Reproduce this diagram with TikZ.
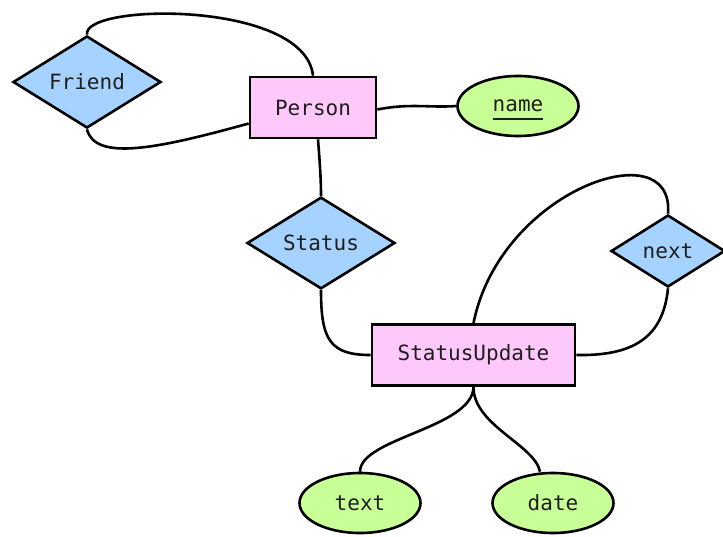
\documentclass[tikz,border=0pt]{standalone}
\usepackage{fontspec}
\setmonofont{DejaVu Sans Mono}
\usetikzlibrary{shapes.geometric}
\definecolor{relblue}{RGB}{166,210,255}
\definecolor{entpink}{RGB}{255,200,250}
\definecolor{attgreen}{RGB}{200,255,150}
\definecolor{txt}{RGB}{30,30,30}
\newsavebox{\ulkeybox}
\newcommand{\keyul}[1]{\sbox{\ulkeybox}{#1}\smash{\rlap{\raisebox{-8.5pt}{\rule{\wd\ulkeybox}{2.6pt}}}}\usebox{\ulkeybox}}
\begin{document}
\begin{tikzpicture}[x=1pt,y=-1pt,
  every node/.style={font=\ttfamily\fontsize{21}{24}\selectfont, text=txt, line width=2.6pt, draw=black, inner sep=0pt},
  entity/.style={rectangle, fill=entpink, minimum width=126pt, minimum height=61pt},
  rel/.style={diamond, fill=relblue, minimum width=148pt, minimum height=88pt},
  attr/.style={ellipse, fill=attgreen, minimum width=121pt, minimum height=60pt},
  conn/.style={line width=2.6pt, draw=black}]
\useasboundingbox (0,0) rectangle (723,536);
\node[rel] (friend) at (87,82) {Friend};
\node[entity] (person) at (313,107.5) {Person};
\node[attr] (name) at (518,106) {\keyul{name}};
\node[rel] (status) at (321,243) {Status};
\node[entity, minimum width=203pt] (su) at (473.5,355) {StatusUpdate};
\node[rel, minimum width=114pt, minimum height=72pt] (next) at (668,251) {next};
\node[attr] (text) at (360,503) {text};
\node[attr] (date) at (553,503) {date};
\draw[conn] (friend.north) .. controls (82,3) and (305,0) .. (person.north);
\draw[conn] (friend.south) .. controls (95,162) and (160,148) .. ([yshift=-16pt]person.west);
\draw[conn] ([yshift=-2pt]person.east) .. controls (410,103) and (430,108) .. (name.west);
\draw[conn] ([xshift=5pt]person.south) .. controls (320,165) and (321,180) .. (status.north);
\draw[conn] (status.south) .. controls (321,340) and (330,355) .. (su.west);
\draw[conn] (su.north) .. controls (500,190) and (675,130) .. (next.north);
\draw[conn] (next.south) .. controls (663,340) and (630,356) .. (su.east);
\draw[conn] (su.south) .. controls (473,428) and (360,438) .. (text.north);
\draw[conn] (su.south) .. controls (473,425) and (535,445) .. ([xshift=-13pt]date.north);
\end{tikzpicture}
\end{document}
